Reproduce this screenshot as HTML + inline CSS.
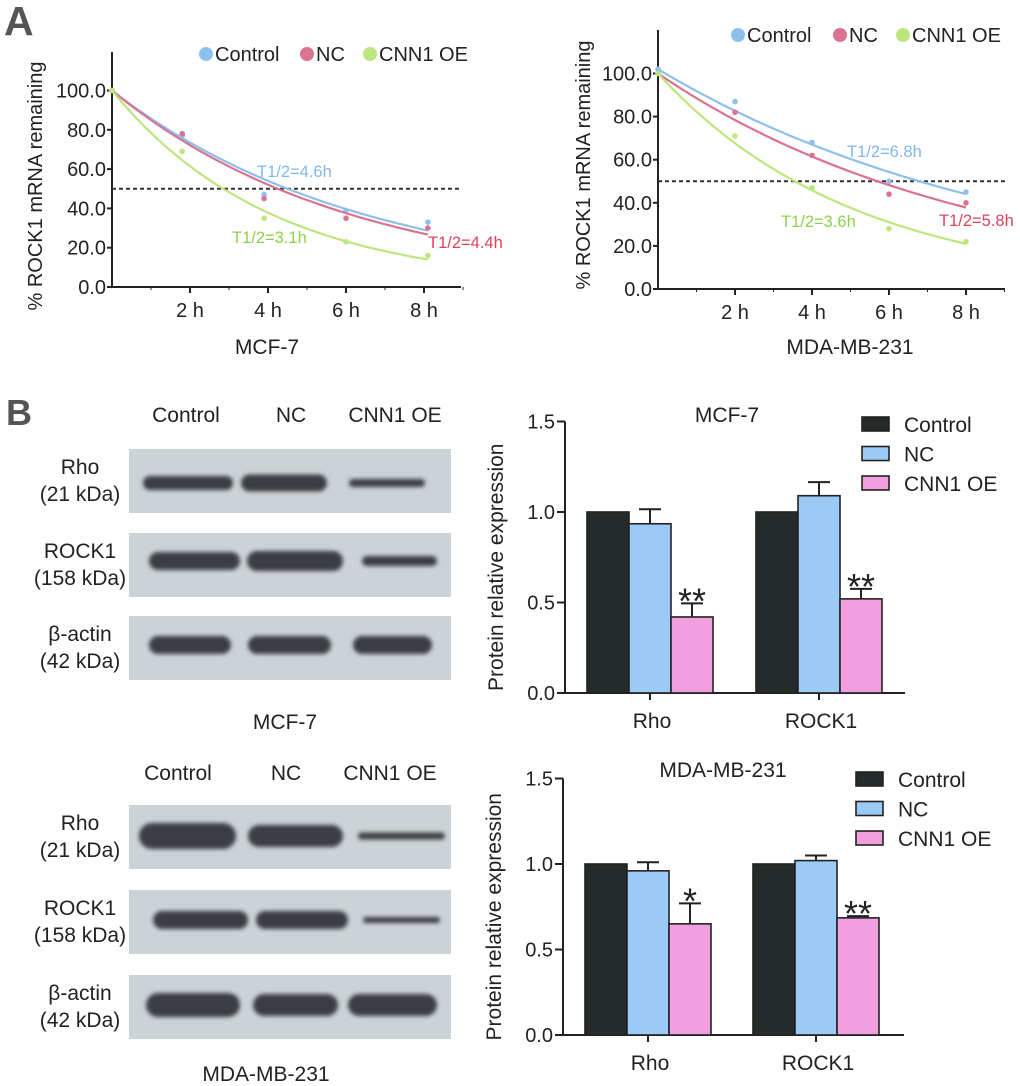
<!DOCTYPE html>
<html><head><meta charset="utf-8"><style>
html,body{margin:0;padding:0;background:#fff;}
svg{display:block;font-family:"Liberation Sans",Arial,sans-serif;}
</style></head><body>
<svg id="fig" width="1020" height="1086" viewBox="0 0 1020 1086" xmlns="http://www.w3.org/2000/svg">
<defs>
<filter id="blur" x="-20%" y="-100%" width="140%" height="300%"><feGaussianBlur stdDeviation="2.2"/></filter>
</defs>
<text x="4" y="35" font-size="41" font-weight="bold" fill="#555">A</text>
<text x="6" y="425" font-size="36" font-weight="bold" fill="#555">B</text>
<g id="lineA1"></g>
<g id="lineA2"></g>
<g id="blots"></g>
<g id="barB1"></g>
<g id="barB2"></g>
</svg>
<script>
// ---- Line chart data ----
const groups = ["Control","NC","CNN1 OE"];
const yTicksLine = [0,20,40,60,80,100];
const yTickLabelsLine = ["0.0","20.0","40.0","60.0","80.0","100.0"];
const xTicksLine = [2,4,6,8];
const xTickLabelsLine = ["2 h","4 h","6 h","8 h"];
const timesA1 = [0,1.8,3.9,6,8.1];
const mcfControl = [100,77,47,39,33];
const mcfNC = [100,78,45,35,30];
const mcfOE = [100,69,35,23,16];
const mcfFitStart = [100,100,100];
const mcfFitHalf = [4.5,4.25,2.85];
const mcfHalfLabels = ["T1/2=4.6h","T1/2=4.4h","T1/2=3.1h"];
const timesA2 = [0,2,4,6,8];
const mdaControl = [102,87,68,50,45];
const mdaNC = [100,82,62,44,40];
const mdaOE = [100,71,47,28,22];
const mdaFitStart = [102,100,100];
const mdaFitHalf = [6.6,5.7,3.55];
const mdaHalfLabels = ["T1/2=6.8h","T1/2=5.8h","T1/2=3.6h"];
// ---- Bar chart data ----
const barCategories = ["Rho","ROCK1"];
const yTicksBar = [0,0.5,1.0,1.5];
const yTickLabelsBar = ["0.0","0.5","1.0","1.5"];
const mcfBarControl = [1.0,1.0];
const mcfBarNC = [0.935,1.09];
const mcfBarOE = [0.42,0.52];
const mcfErrNC = [0.08,0.075];
const mcfErrOE = [0.075,0.055];
const mcfStars = ["**","**"];
const mdaBarControl = [1.0,1.0];
const mdaBarNC = [0.96,1.02];
const mdaBarOE = [0.65,0.685];
const mdaErrNC = [0.05,0.03];
const mdaErrOE = [0.12,0.01];
const mdaStars = ["*","**"];

const NS="http://www.w3.org/2000/svg";
function mk(tag,attrs,parent,text){const e=document.createElementNS(NS,tag);for(const k in attrs)e.setAttribute(k,attrs[k]);if(text!==undefined)e.textContent=text;parent.appendChild(e);return e;}
const lineCols=["#8ec0ee","#d9738f","#bde67f"];
const labelCols=["#80b8ec","#e0405e","#8cd24c"];

function lineChart(g,o){
  const X=t=>o.x0+t*o.px; const Y=v=>o.y0-v*o.py;
  let e;
  e=mk("line",{x1:o.x0,y1:o.top,x2:o.x0,y2:o.y0,stroke:"#222","stroke-width":2},g);
  
  e=mk("line",{x1:o.x0,y1:o.y0,x2:o.xEnd,y2:o.y0,stroke:"#222","stroke-width":2},g);
  
  yTicksLine.forEach((v,i)=>{
    mk("line",{x1:o.x0-5,y1:Y(v),x2:o.x0,y2:Y(v),stroke:"#222","stroke-width":2},g);
    e=mk("text",{x:o.x0-6,y:Y(v)+7,"font-size":20,"text-anchor":"end",fill:"#222"},g,yTickLabelsLine[i]);
    
  });
  for(let t=1;t<=9;t++){mk("line",{x1:X(t),y1:o.y0,x2:X(t),y2:o.y0+(t%2?3:6),stroke:"#222","stroke-width":t%2?1:2},g);}
  xTicksLine.forEach((t,i)=>{
    e=mk("text",{x:X(t),y:o.y0+30,"font-size":20,"text-anchor":"middle",fill:"#222"},g,xTickLabelsLine[i]);
    
  });
  e=mk("line",{x1:o.x0,y1:Y(50),x2:o.xEnd,y2:Y(50),stroke:"#333","stroke-width":2,"stroke-dasharray":"4,3"},g);
  
  o.series.forEach((s,k)=>{
    let d="";for(let i=0;i<=40;i++){const t=o.tEnd*i/40;const v=o.fitStart[k]*Math.pow(2,-t/o.fitHalf[k]);d+=(i?"L":"M")+X(t).toFixed(1)+","+Y(v).toFixed(1);}
    e=mk("path",{d:d,fill:"none",stroke:lineCols[k],"stroke-width":2.2},g);
    
    s.forEach((v,i)=>{e=mk("circle",{cx:X(o.times[i]),cy:Y(v),r:2.8,fill:lineCols[k]},g);
      });
  });
  o.halfPos.forEach((p,k)=>{e=mk("text",{x:p[0],y:p[1],"font-size":16.5,fill:labelCols[k]},g,o.halfLabels[k]);
    });
  o.legend.forEach((lx,k)=>{
    e=mk("circle",{cx:lx,cy:o.legY,r:7,fill:lineCols[k]},g);
    
    e=mk("text",{x:lx+9,y:o.legY+7,"font-size":20,fill:"#222"},g,groups[k]);
    
  });
  e=mk("text",{x:0,y:0,"font-size":20,"text-anchor":"middle",fill:"#222",transform:`translate(${o.ytx},${o.yty}) rotate(-90)`},g,"% ROCK1 mRNA remaining");
  
  e=mk("text",{x:o.xtx,y:354,"font-size":21,"text-anchor":"middle",fill:"#222"},g,o.xTitle);
  
}
lineChart(document.getElementById("lineA1"),{x0:112,y0:287,px:39,py:1.965,top:52,xEnd:461,tEnd:8.1,times:timesA1,
 series:[mcfControl,mcfNC,mcfOE],fitStart:mcfFitStart,fitHalf:mcfFitHalf,halfLabels:mcfHalfLabels,
 halfPos:[[257,177],[428,248],[232,243]],legend:[206,307,370],legY:54,ytx:42,yty:186,xtx:267,xTitle:"MCF-7"});
lineChart(document.getElementById("lineA2"),{x0:658,y0:289,px:38.5,py:2.155,top:30,xEnd:1005,tEnd:8,times:timesA2,
 series:[mdaControl,mdaNC,mdaOE],fitStart:mdaFitStart,fitHalf:mdaFitHalf,halfLabels:mdaHalfLabels,
 halfPos:[[847,157],[939,226],[781,227]],legend:[738,840,903],legY:35,ytx:590,yty:165,xtx:850,xTitle:"MDA-MB-231"});

// ---- Blots ----
const bg=document.getElementById("blots");
function blot(cfg){
  let e;
  cfg.heads.forEach((h,i)=>{e=mk("text",{x:cfg.hx[i],y:cfg.hy,"font-size":21,"text-anchor":"middle",fill:"#222"},bg,h);
    });
  cfg.rows.forEach((r,ri)=>{
    e=mk("rect",{x:129,y:r.y,width:322,height:64,fill:"#ccd3d6"},bg);
    
    const cy=r.y+32;
    e=mk("text",{x:80,y:cy-7,"font-size":21,"text-anchor":"middle",fill:"#222"},bg,r.name);
    
    e=mk("text",{x:80,y:cy+20,"font-size":21,"text-anchor":"middle",fill:"#222"},bg,r.kda);
    
    r.bands.forEach(b=>{e=mk("rect",{x:b[0],y:r.by-b[2]/2,width:b[1]-b[0],height:b[2],rx:b[2]/2,fill:"#3a3e42",filter:"url(#blur)"},bg);
      });
  });
  e=mk("text",{x:cfg.tx,y:cfg.ty,"font-size":21,"text-anchor":"middle",fill:"#222"},bg,cfg.title);
  
}
blot({heads:groups,hx:[186,291,395],hy:422,title:"MCF-7",tx:285,ty:729,rows:[
 {y:449,by:483,name:"Rho",kda:"(21 kDa)",bands:[[143,233,14],[241,327,17],[349,425,8]]},
 {y:533,by:561,name:"ROCK1",kda:"(158 kDa)",bands:[[149,240,18],[247,343,20],[362,437,10]]},
 {y:616,by:645,name:"β-actin",kda:"(42 kDa)",bands:[[149,231,18],[248,331,18],[353,432,18]]}]});
blot({heads:groups,hx:[178,286,390],hy:780,title:"MDA-MB-231",tx:266,ty:1081,rows:[
 {y:805,by:836,name:"Rho",kda:"(21 kDa)",bands:[[139,236,26],[248,343,22],[358,445,7]]},
 {y:890,by:920,name:"ROCK1",kda:"(158 kDa)",bands:[[153,248,18],[256,348,18],[363,440,6]]},
 {y:975,by:1005,name:"β-actin",kda:"(42 kDa)",bands:[[146,240,24],[253,338,22],[348,437,22]]}]});

// ---- Bar charts ----
const barCols=["#252a2a","#9ccaf7","#f29fe0"];
function barChart(g,o){
  const Y=v=>o.y0-v*o.py; let e;
  e=mk("line",{x1:o.x0,y1:Y(1.5),x2:o.x0,y2:o.y0,stroke:"#222","stroke-width":2},g);
  
  e=mk("line",{x1:o.x0,y1:o.y0,x2:o.xEnd,y2:o.y0,stroke:"#222","stroke-width":2},g);
  
  yTicksBar.forEach((v,i)=>{mk("line",{x1:o.x0-8,y1:Y(v),x2:o.x0,y2:Y(v),stroke:"#222","stroke-width":2},g);
    e=mk("text",{x:o.x0-10,y:Y(v)+7,"font-size":20,"text-anchor":"end",fill:"#222"},g,yTickLabelsBar[i]);
    });
  const bw=42;
  barCategories.forEach((c,ci)=>{
    const gx=o.gx[ci];
    mk("line",{x1:gx+bw*1.5,y1:o.y0,x2:gx+bw*1.5,y2:o.y0+7,stroke:"#222","stroke-width":2},g);
    e=mk("text",{x:gx+bw*1.5+2,y:o.y0+35,"font-size":21,"text-anchor":"middle",fill:"#222"},g,c);
    
    const vals=[o.ctrl[ci],o.nc[ci],o.oe[ci]], errs=[0,o.errNC[ci],o.errOE[ci]];
    vals.forEach((v,k)=>{
      const bx=gx+k*bw;
      if(errs[k]>0){const ex=bx+bw/2;mk("line",{x1:ex,y1:Y(v),x2:ex,y2:Y(v+errs[k]),stroke:"#222","stroke-width":2},g);
        mk("line",{x1:ex-11,y1:Y(v+errs[k]),x2:ex+11,y2:Y(v+errs[k]),stroke:"#222","stroke-width":2},g);}
      e=mk("rect",{x:bx,y:Y(v),width:bw,height:o.y0-Y(v),fill:barCols[k],stroke:"#222","stroke-width":1.6},g);
      
    });
    const sx=gx+2.5*bw, sy=Y(o.oe[ci]+o.errOE[ci]);
    e=mk("text",{x:sx,y:sy+10,"font-size":36,"text-anchor":"middle",fill:"#222"},g,o.stars[ci]);
    
  });
  groups.forEach((n,k)=>{
    e=mk("rect",{x:o.lx,y:o.ly+k*29.5,width:27,height:14,fill:barCols[k],stroke:"#222","stroke-width":1.6},g);
    
    e=mk("text",{x:o.lx+42,y:o.ly+k*29.5+15,"font-size":21,fill:"#222"},g,n);
    
  });
  e=mk("text",{x:o.tx,y:o.ty,"font-size":21,"text-anchor":"middle",fill:"#222"},g,o.title);
  
  e=mk("text",{x:0,y:0,"font-size":21,"text-anchor":"middle",fill:"#222",transform:`translate(${o.x0-62},${(Y(1.5)+o.y0)/2+10}) rotate(-90)`},g,"Protein relative expression");
  
}
barChart(document.getElementById("barB1"),{x0:565,y0:693,py:181,xEnd:905,gx:[587,756],ctrl:mcfBarControl,nc:mcfBarNC,oe:mcfBarOE,
 errNC:mcfErrNC,errOE:mcfErrOE,stars:mcfStars,lx:862,ly:417,tx:727,ty:422,title:"MCF-7"});
barChart(document.getElementById("barB2"),{x0:563,y0:1035,py:171,xEnd:904,gx:[585,753],ctrl:mdaBarControl,nc:mdaBarNC,oe:mdaBarOE,
 errNC:mdaErrNC,errOE:mdaErrOE,stars:mdaStars,lx:856,ly:772,tx:723,ty:777,title:"MDA-MB-231"});
</script>
</body></html>
